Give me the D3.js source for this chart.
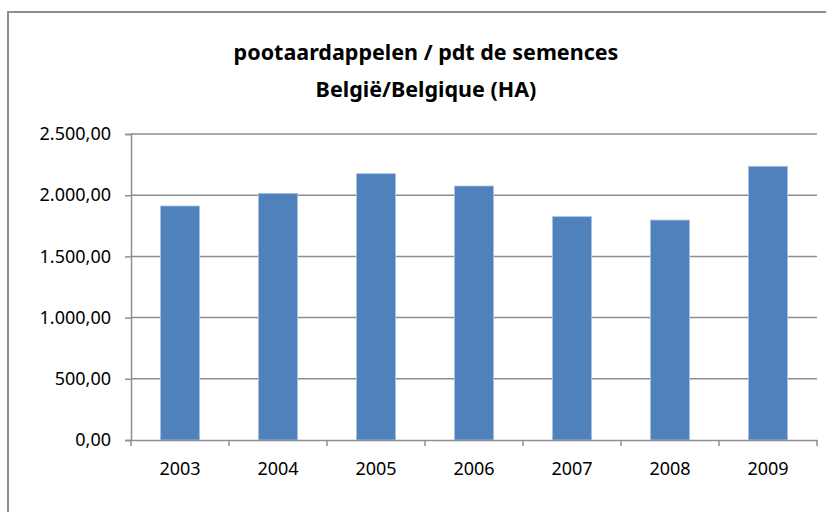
<!DOCTYPE html>
<meta charset="utf-8">
<style type="text/css">
    body {
        margin: 0;
        background: #fff;
    }
    text {
        font-family: "Noto Sans", sans-serif;
        fill: #000;
    }
    svg {
        display: block;
    }
</style>
<body>
<script src="https://cdn.jsdelivr.net/npm/d3@7"></script>
<script>
// Chart data
var years = ["2003", "2004", "2005", "2006", "2007", "2008", "2009"];
var hectares = [1912, 2015, 2176, 2075, 1825, 1797, 2236];
var yTicks = [0, 500, 1000, 1500, 2000, 2500];
var titleLines = ["pootaardappelen / pdt de semences", "België/Belgique (HA)"];

var width = 826, height = 512;
var margin = {top: 134, right: 9, bottom: 72, left: 131};

var svg = d3.select("body")
    .append("svg")
    .attr("width", width)
    .attr("height", height);

// outer chart frame (runs off the right and bottom of the picture)
svg.append("rect")
    .attr("x", 8)
    .attr("y", 12)
    .attr("width", 860)
    .attr("height", 560)
    .attr("fill", "none")
    .attr("stroke", "#8e8e8e")
    .attr("stroke-width", 2);

// title
svg.append("g").selectAll("text")
    .data(titleLines)
    .enter().append("text")
    .attr("x", 426)
    .attr("y", function(d, i) { return 60 + i * 37; })
    .attr("text-anchor", "middle")
    .style("font-size", "21.5px")
    .style("font-weight", "bold")
    .text(function(d) { return d; });

var x = d3.scaleBand()
    .domain(years)
    .range([margin.left, width - margin.right])
    .paddingInner(0.6)
    .paddingOuter(0.3);

var xTicks = d3.scaleBand()
    .domain(years)
    .range([margin.left, width - margin.right]);

var y = d3.scaleLinear()
    .domain([0, 2500])
    .range([height - margin.bottom, margin.top]);

var fmt = function(v) {
    return d3.format(",.2f")(v).replace(/,/g, "#").replace(".", ",").replace(/#/g, ".");
};

// horizontal gridlines
svg.append("g").selectAll("line")
    .data(yTicks.filter(function(d) { return d > 0; }))
    .enter().append("line")
    .attr("x1", margin.left)
    .attr("x2", width - margin.right)
    .attr("y1", function(d) { return y(d); })
    .attr("y2", function(d) { return y(d); })
    .attr("stroke", "#8e8e8e")
    .attr("stroke-width", 1.5);

// bars
svg.append("g").selectAll("rect")
    .data(hectares)
    .enter().append("rect")
    .attr("x", function(d, i) { return x(years[i]); })
    .attr("y", function(d) { return y(d); })
    .attr("width", x.bandwidth())
    .attr("height", function(d) { return y(0) - y(d); })
    .attr("fill", "#4f81bd")
    .attr("stroke", "#a9c3e3")
    .attr("stroke-width", 0.8);

// y axis
var yAxis = svg.append("g")
    .attr("transform", "translate(" + margin.left + ",0)")
    .call(d3.axisLeft(y).tickValues(yTicks).tickFormat(fmt).tickSize(6).tickPadding(14));

// x axis
var xAxis = svg.append("g")
    .attr("transform", "translate(0," + y(0) + ")")
    .call(d3.axisBottom(xTicks).tickSize(0).tickPadding(22));

xAxis.append("g").selectAll("line")
    .data(years.concat(["end"]))
    .enter().append("line")
    .attr("x1", function(d, i) { return margin.left + i * xTicks.step(); })
    .attr("x2", function(d, i) { return margin.left + i * xTicks.step(); })
    .attr("y1", 0)
    .attr("y2", 6)
    .attr("stroke", "#8e8e8e")
    .attr("stroke-width", 1.5);

[yAxis, xAxis].forEach(function(a) {
    a.selectAll(".domain").attr("stroke", "#8e8e8e").attr("stroke-width", 1.5);
    a.selectAll(".tick line").attr("stroke", "#8e8e8e").attr("stroke-width", 1.5);
    a.selectAll("text")
        .style("font-family", "'Noto Sans', sans-serif")
        .style("font-size", "18px")
        .attr("fill", "#000");
});
xAxis.selectAll(".tick text").attr("dy", "0.71em");
</script>
</body>
